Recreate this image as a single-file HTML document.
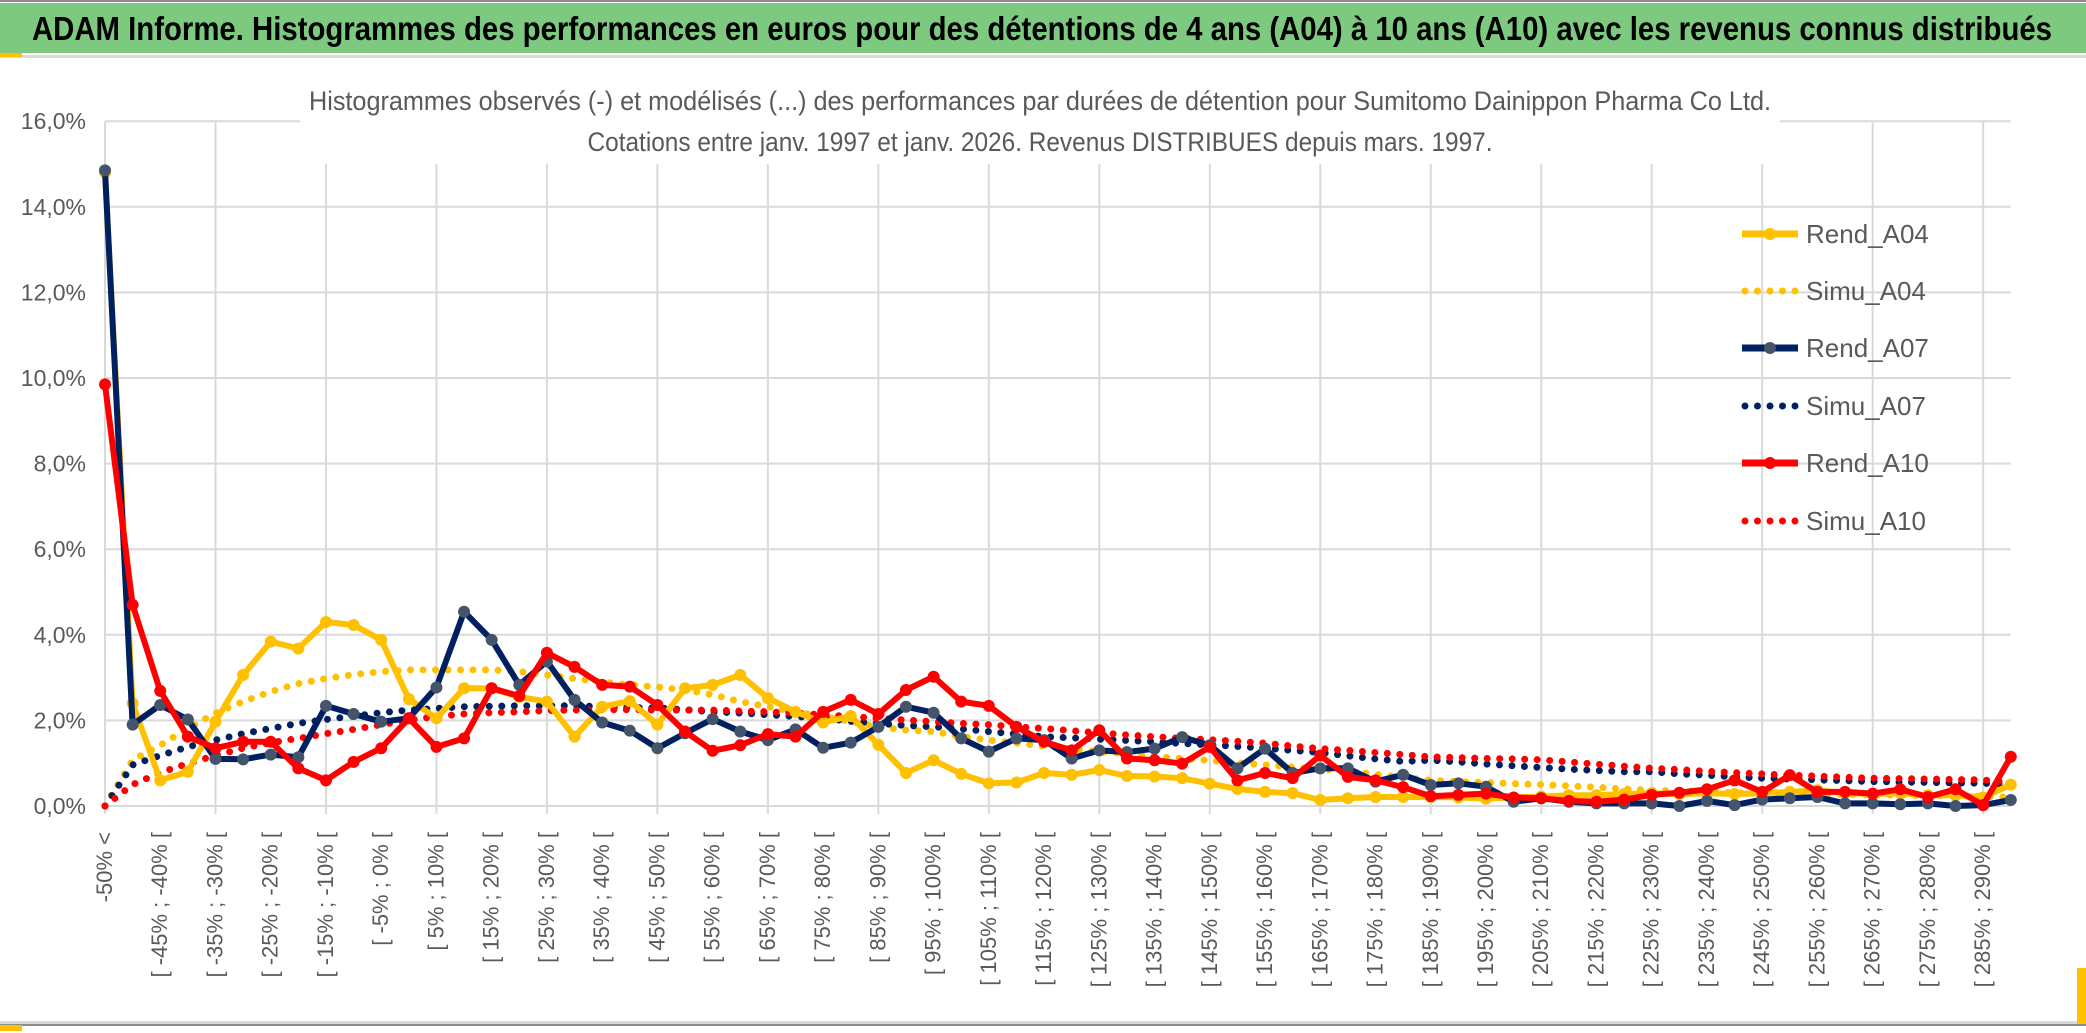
<!DOCTYPE html>
<html><head><meta charset="utf-8"><style>
html,body{margin:0;padding:0;background:#fff;}
svg{display:block;}
</style></head><body>
<svg id="chart" width="2086" height="1033" viewBox="0 0 2086 1033" xmlns="http://www.w3.org/2000/svg">
<rect x="0" y="0" width="2086" height="1033" fill="#fff"/>
<rect x="0" y="0" width="2086" height="2" fill="#8c8c8c"/>
<rect x="0" y="3" width="2086" height="50" fill="#7DC97F"/>
<text x="32" y="40" font-family="'Liberation Sans Narrow','Liberation Sans',sans-serif" font-weight="bold" font-size="33" fill="#000" textLength="2020" lengthAdjust="spacingAndGlyphs">ADAM Informe. Histogrammes des performances en euros pour des détentions de 4 ans (A04) à 10 ans (A10) avec les revenus connus distribués</text>
<rect x="0" y="55" width="2086" height="3" fill="#d9d9d9"/>
<rect x="0" y="53" width="22" height="4" fill="#FFC000"/>
<rect x="0" y="1021" width="2086" height="3" fill="#d9d9d9"/>
<rect x="0" y="1024" width="2086" height="2" fill="#8c8c8c"/>
<rect x="0" y="1025" width="22" height="6" fill="#FFC000"/>
<rect x="2077" y="968" width="9" height="56" fill="#FFC000"/>
<g id="grid"></g>
<g id="yaxis"></g>
<g id="xaxis"></g>
<g id="series"></g>
<rect x="300" y="72" width="1480" height="92" fill="#fff"/>
<text x="1040" y="110" text-anchor="middle" font-family="'Liberation Sans Narrow','Liberation Sans',sans-serif" font-size="27" fill="#595959" textLength="1462" lengthAdjust="spacingAndGlyphs">Histogrammes observés (-) et modélisés (...) des performances par durées de détention pour Sumitomo Dainippon Pharma Co Ltd.</text>
<text x="1040" y="151" text-anchor="middle" font-family="'Liberation Sans Narrow','Liberation Sans',sans-serif" font-size="27" fill="#595959" textLength="905" lengthAdjust="spacingAndGlyphs">Cotations entre janv. 1997 et janv. 2026. Revenus DISTRIBUES depuis mars. 1997.</text>
<g id="legend"></g>
</svg>
<script>
const categories = (function(){const c=["-50% <"];for(let k=1;k<70;k++){const a=-55+5*k;c.push("[ "+a+"% ; "+(a+5)+"% [");}return c;})();
const yTicks = [0,2,4,6,8,10,12,14,16];
const rendA04 = [14.8,2.4,0.6,0.8,1.97,3.06,3.84,3.68,4.3,4.23,3.88,2.5,2.05,2.75,2.75,2.55,2.44,1.62,2.32,2.45,1.9,2.75,2.83,3.06,2.52,2.2,1.95,2.1,1.43,0.77,1.07,0.75,0.53,0.55,0.77,0.73,0.84,0.7,0.69,0.65,0.52,0.4,0.33,0.3,0.14,0.18,0.21,0.21,0.21,0.2,0.17,0.2,0.22,0.25,0.25,0.28,0.3,0.28,0.3,0.28,0.3,0.33,0.37,0.3,0.28,0.3,0.25,0.25,0.2,0.5];
const simuA04 = [0,1.07,1.42,1.81,2.17,2.44,2.67,2.86,2.98,3.07,3.14,3.18,3.18,3.18,3.18,3.14,3.06,2.98,2.9,2.83,2.78,2.71,2.6,2.44,2.32,2.2,2.09,1.97,1.85,1.77,1.74,1.62,1.54,1.47,1.4,1.33,1.27,1.22,1.16,1.11,1.06,1.01,0.96,0.91,0.86,0.82,0.74,0.67,0.6,0.57,0.55,0.52,0.5,0.47,0.44,0.4,0.37,0.35,0.33,0.31,0.29,0.28,0.27,0.27,0.26,0.25,0.24,0.24,0.23,0.2];
const rendA07 = [14.85,1.9,2.36,2.02,1.1,1.09,1.2,1.14,2.34,2.15,1.97,2.05,2.77,4.54,3.88,2.83,3.38,2.48,1.95,1.76,1.35,1.7,2.03,1.74,1.54,1.79,1.36,1.48,1.85,2.32,2.18,1.58,1.27,1.58,1.54,1.11,1.3,1.26,1.34,1.61,1.42,0.88,1.34,0.77,0.88,0.88,0.57,0.73,0.49,0.53,0.45,0.1,0.18,0.1,0.06,0.06,0.06,0.0,0.12,0.02,0.15,0.18,0.21,0.06,0.06,0.04,0.06,0.0,0.02,0.14];
const simuA07 = [0,0.96,1.18,1.38,1.54,1.69,1.81,1.93,2.02,2.1,2.18,2.24,2.28,2.32,2.33,2.34,2.34,2.34,2.32,2.3,2.29,2.25,2.2,2.17,2.13,2.09,2.05,1.98,1.93,1.88,1.85,1.8,1.74,1.68,1.62,1.59,1.56,1.53,1.5,1.46,1.43,1.39,1.35,1.3,1.25,1.17,1.1,1.04,1.07,1.03,0.98,0.94,0.9,0.86,0.83,0.8,0.8,0.75,0.72,0.68,0.65,0.63,0.61,0.59,0.57,0.56,0.55,0.54,0.53,0.5];
const rendA10 = [9.85,4.7,2.69,1.62,1.35,1.5,1.5,0.88,0.6,1.03,1.35,2.05,1.38,1.58,2.75,2.57,3.58,3.25,2.83,2.79,2.36,1.74,1.29,1.42,1.68,1.62,2.2,2.48,2.15,2.71,3.02,2.44,2.34,1.85,1.5,1.3,1.77,1.11,1.07,0.99,1.38,0.6,0.77,0.65,1.18,0.68,0.6,0.44,0.23,0.26,0.29,0.2,0.18,0.12,0.1,0.15,0.26,0.31,0.39,0.6,0.33,0.72,0.33,0.33,0.29,0.39,0.21,0.39,0.02,1.15];
const simuA10 = [0,0.5,0.78,0.99,1.18,1.35,1.48,1.58,1.69,1.79,1.9,2.01,2.09,2.15,2.18,2.2,2.23,2.24,2.25,2.25,2.24,2.24,2.24,2.22,2.2,2.17,2.13,2.09,2.05,2.01,1.97,1.93,1.9,1.85,1.81,1.76,1.71,1.66,1.62,1.58,1.55,1.51,1.47,1.4,1.34,1.3,1.25,1.2,1.15,1.13,1.11,1.1,1.08,1.03,0.98,0.93,0.88,0.85,0.81,0.78,0.75,0.72,0.7,0.67,0.65,0.64,0.63,0.62,0.61,0.55];
const seriesNames = ["Rend_A04","Simu_A04","Rend_A07","Simu_A07","Rend_A10","Simu_A10"];

const NS="http://www.w3.org/2000/svg";
const X0=105, DX=27.62, Y0=806, PY=42.8;
function xPos(i){return X0+i*DX;}
function yPos(v){return Y0-v*PY;}
function mk(tag,attrs,parent){const e=document.createElementNS(NS,tag);for(const k in attrs)e.setAttribute(k,attrs[k]);parent.appendChild(e);return e;}
const grid=document.getElementById('grid'),yax=document.getElementById('yaxis'),xax=document.getElementById('xaxis'),ser=document.getElementById('series'),leg=document.getElementById('legend');
const xEnd=xPos(categories.length-1);
yTicks.forEach(t=>{
  const l=mk('line',{x1:X0,x2:xEnd,y1:yPos(t),y2:yPos(t),stroke:'#d9d9d9','stroke-width':2},grid);
  
  
  const tx=mk('text',{x:86,y:yPos(t)+8,'text-anchor':'end','font-family':"'Liberation Sans Narrow','Liberation Sans',sans-serif",'font-size':23,fill:'#595959'},yax);
  tx.textContent=t.toFixed(1).replace('.',',')+'%';
  
  
});
for(let i=0;i<categories.length;i+=4){
  const l=mk('line',{x1:xPos(i),x2:xPos(i),y1:yPos(16),y2:Y0+8,stroke:'#d9d9d9','stroke-width':2},grid);
  
  
}
for(let i=0;i<categories.length;i+=2){
  const x=xPos(i)+7, y=832;
  const tx=mk('text',{x:x,y:y,transform:'rotate(-90 '+x+' '+y+')','text-anchor':'end','font-family':"'Liberation Sans',sans-serif",'font-size':22,fill:'#595959'},xax);
  tx.textContent=categories[i];
  
  
}
function pts(arr){return arr.map((v,i)=>xPos(i).toFixed(1)+','+yPos(v).toFixed(1)).join(' ');}
function dotted(arr,color,name){
  const p=mk('polyline',{points:pts(arr),fill:'none',stroke:color,'stroke-width':7,'stroke-linecap':'round','stroke-dasharray':'0 12.5'},ser);
  
  
}
function solid(arr,color,mcolor,name){
  const g=mk('g',{},ser);
  
  
  mk('polyline',{points:pts(arr),fill:'none',stroke:color,'stroke-width':6,'stroke-linejoin':'round'},g);
  arr.forEach((v,i)=>{
    const c=mk('circle',{cx:xPos(i),cy:yPos(v),r:6,fill:mcolor},g);
    
    
  });
}
dotted(simuA04,'#FFC000','simu-a04-line');
dotted(simuA07,'#002060','simu-a07-line');
dotted(simuA10,'#FF0000','simu-a10-line');
solid(rendA04,'#FFC000','#FFC000','rend-a04-line');
solid(rendA07,'#002060','#44546A','rend-a07-line');
solid(rendA10,'#FF0000','#FF0000','rend-a10-line');
const legY=[234,291,348,406,463,521];
const legC=['#FFC000','#FFC000','#002060','#002060','#FF0000','#FF0000'];
seriesNames.forEach((n,i)=>{
  const g=mk('g',{},leg);
  
  
  if(i%2===0){
    mk('line',{x1:1742,x2:1798,y1:legY[i],y2:legY[i],stroke:legC[i],'stroke-width':7},g);
    mk('circle',{cx:1770,cy:legY[i],r:6,fill:i===2?'#44546A':legC[i]},g);
  } else {
    mk('line',{x1:1745,x2:1798,y1:legY[i],y2:legY[i],stroke:legC[i],'stroke-width':7,'stroke-linecap':'round','stroke-dasharray':'0 12.5'},g);
  }
  const t=mk('text',{x:1806,y:legY[i]+9,'font-family':"'Liberation Sans Narrow','Liberation Sans',sans-serif",'font-size':26,fill:'#595959'},g);
  t.textContent=n;
});
</script>
</body></html>
